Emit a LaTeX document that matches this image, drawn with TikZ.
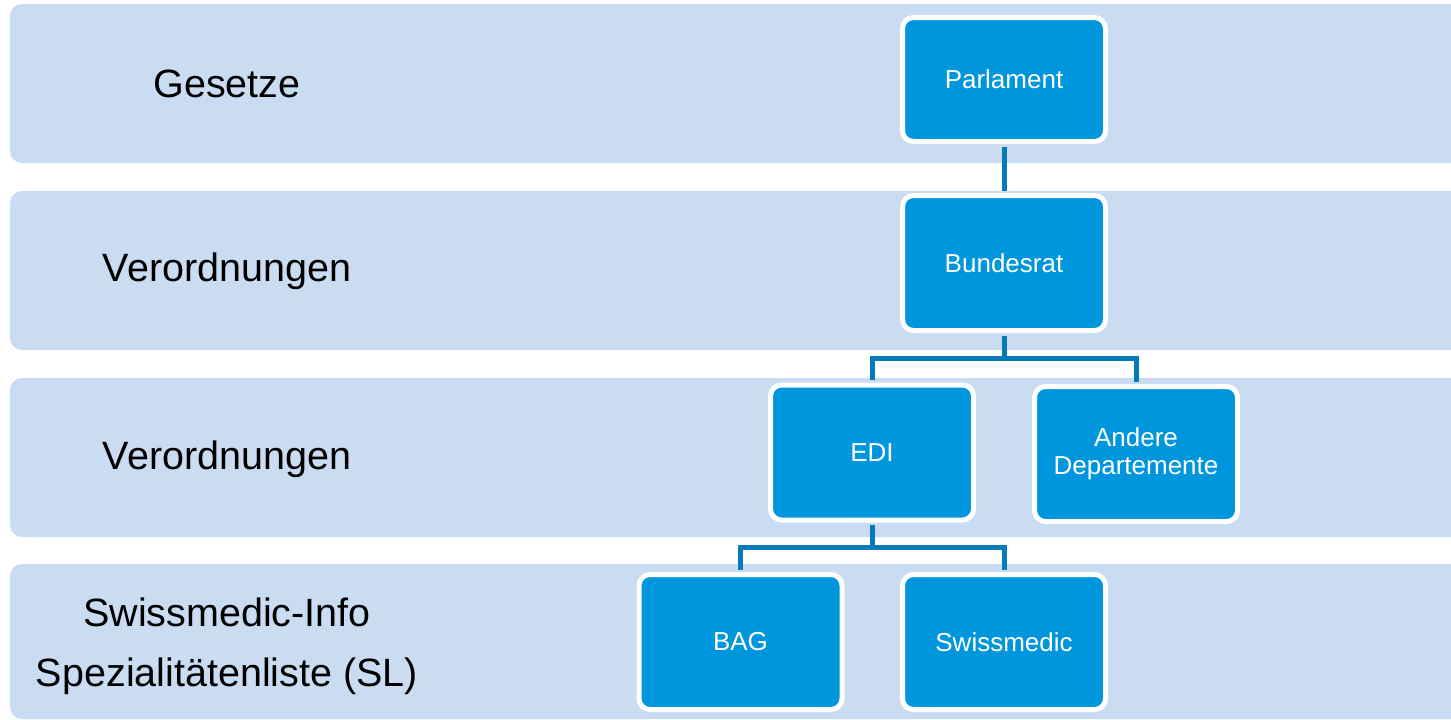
\documentclass[tikz,border=0pt]{standalone}
\usepackage{fontspec}
\setmainfont{Liberation Sans}
\definecolor{bandblue}{RGB}{202,220,241}
\definecolor{boxblue}{RGB}{0,150,221}
\definecolor{lineblue}{RGB}{4,122,186}
\begin{document}
\begin{tikzpicture}[x=1pt,y=-1pt,
  band/.style={fill=bandblue,rounded corners=12pt},
  orgbox/.style={draw=white,line width=5pt,fill=boxblue,rounded corners=11pt,
    minimum width=203pt,minimum height=135pt,inner sep=0pt,align=center,
    text=white,font=\fontsize{26}{28.5}\selectfont},
  lbl/.style={align=center,text=black,font=\fontsize{39.5}{60}\selectfont},
  conn/.style={draw=lineblue,line width=5pt,shorten <=2.5pt,shorten >=2.5pt}]
\useasboundingbox (0,0) rectangle (1451,720);
\begin{scope}
\clip (0,0) rectangle (1451,720);
\fill[band] (10,4) rectangle (1464,163);
\fill[band] (10,191) rectangle (1464,350);
\fill[band] (10,378) rectangle (1464,537);
\fill[band] (10,564) rectangle (1464,719);
\end{scope}
\node[lbl] (l1) at (227,83.5) {Gesetze};
\node[lbl] (l2) at (227,271.5) {Verordnungen};
\node[lbl] (l3) at (227,459) {Verordnungen};
\node[lbl] (l4) at (227,646) {Swissmedic-Info\\Spezialitätenliste (SL)};
\node[orgbox,minimum height=124pt] (parl) at (1004,79.5) {Parlament};
\node[orgbox] (brat) at (1004,263) {Bundesrat};
\node[orgbox] (edi) at (872,452.5) {EDI};
\node[orgbox] (andere) at (1136,454) {Andere\\Departemente};
\node[orgbox] (bag) at (740.5,642) {BAG};
\node[orgbox] (swm) at (1004,642) {Swissmedic};
\coordinate (j1) at (1004,358);
\coordinate (j2) at (872,547);
\draw[conn] (parl.south) -- (brat.north);
\draw[conn,shorten >=0pt] (brat.south) -- (j1);
\draw[conn,shorten <=0pt,line join=miter] (j1) -| (edi.north);
\draw[conn,shorten <=0pt,line join=miter] (j1) -| (andere.north);
\draw[conn,shorten >=0pt] (edi.south) -- (j2);
\draw[conn,shorten <=0pt,line join=miter] (j2) -| (bag.north);
\draw[conn,shorten <=0pt,line join=miter] (j2) -| (swm.north);
\end{tikzpicture}
\end{document}
